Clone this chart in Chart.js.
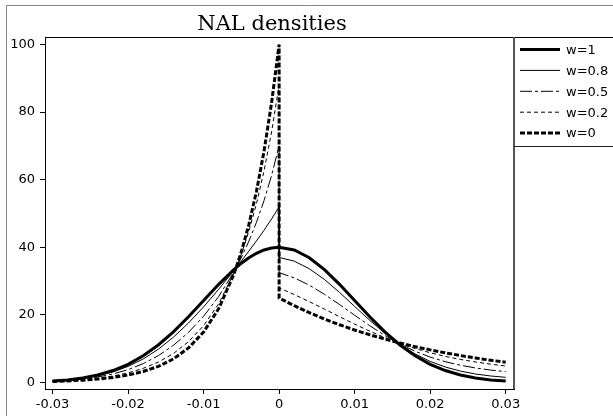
<!DOCTYPE html>
<html>
<head>
<meta charset="utf-8">
<script src="https://cdn.jsdelivr.net/npm/chart.js@4/dist/chart.umd.min.js"></script>
<style>
  body { margin: 0; background: #fff; }
  #wrap { width: 613px; height: 416px; }
</style>
</head>
<body>
<div id="wrap"><canvas id="chart" width="613" height="416"></canvas></div>
<script>
// x grid (left side finer near the peak, then the jump at 0)
const xVals = [-0.03, -0.028, -0.026, -0.024, -0.022, -0.02, -0.018, -0.016, -0.014, -0.012, -0.01, -0.008, -0.006, -0.005, -0.004, -0.003, -0.002, -0.001, 0,
    0, 0.002, 0.004, 0.006, 0.008, 0.01, 0.012, 0.014, 0.016, 0.018, 0.02, 0.022, 0.024, 0.026, 0.028, 0.03];

const w1 = [0.44, 0.79, 1.36, 2.25, 3.56, 5.41, 7.92, 11.12, 15.01, 19.47, 24.26, 29.05, 33.41, 35.30, 36.92, 38.24, 39.21, 39.80, 40,
    40, 39.21, 36.92, 33.41, 29.05, 24.26, 19.47, 15.01, 11.12, 7.92, 5.41, 3.56, 2.25, 1.36, 0.79, 0.44];
const w08 = [0.42, 0.73, 1.23, 2.01, 3.15, 4.78, 6.99, 9.85, 13.41, 17.62, 22.40, 27.61, 33.12, 35.97, 38.89, 41.90, 45.05, 48.38, 52,
    37, 35.92, 33.67, 30.49, 26.66, 22.52, 18.41, 14.58, 11.24, 8.47, 6.26, 4.61, 3.40, 2.54, 1.95, 1.55];
const w05 = [0.39, 0.64, 1.04, 1.65, 2.55, 3.83, 5.60, 7.95, 11.00, 14.85, 19.61, 25.46, 32.70, 36.99, 41.85, 47.40, 53.80, 61.25, 70,
    32.5, 30.98, 28.80, 26.11, 23.08, 19.91, 16.81, 13.94, 11.41, 9.28, 7.54, 6.18, 5.13, 4.32, 3.70, 3.23];
const w02 = [0.35, 0.55, 0.85, 1.29, 1.94, 2.87, 4.20, 6.05, 8.59, 12.08, 16.82, 23.31, 32.27, 38.00, 44.80, 52.89, 62.55, 74.12, 88,
    28, 26.03, 23.92, 21.72, 19.49, 17.29, 15.20, 13.29, 11.57, 10.08, 8.82, 7.74, 6.85, 6.09, 5.45, 4.90];
const w0 = [0.33, 0.49, 0.72, 1.05, 1.53, 2.24, 3.27, 4.78, 6.99, 10.23, 14.96, 21.87, 31.98, 38.67, 46.77, 56.55, 68.39, 82.70, 100,
    25, 22.74, 20.67, 18.80, 17.10, 15.55, 14.14, 12.86, 11.69, 10.63, 9.67, 8.79, 8.00, 7.27, 6.61, 6.01];

const seriesNames = ['w=1', 'w=0.8', 'w=0.5', 'w=0.2', 'w=0'];
const xTicks = [-0.03, -0.02, -0.01, 0, 0.01, 0.02, 0.03];
const yTicks = [0, 20, 40, 60, 80, 100];

const allSeries = [w1, w08, w05, w02, w0];
const widths = [3, 1, 1, 1, 3];
const dashes = [[], [], [12, 3, 3, 3], [4, 3], [5, 2]];

const tickFont = { family: 'DejaVu Sans', size: 13 };

const datasets = allSeries.map((vals, i) => ({
    label: seriesNames[i],
    data: xVals.map((x, j) => ({ x: x, y: vals[j] })),
    borderColor: '#000',
    borderWidth: widths[i],
    borderDash: dashes[i],
    pointRadius: 0,
    tension: 0,
    fill: false
}));

// title, frame and legend box drawn by hand
const framePlugin = {
    id: 'frame',
    beforeDraw(chart) {
        const c = chart.ctx;
        c.save();
        c.fillStyle = '#fff';
        c.fillRect(0, 0, chart.width, chart.height);
        c.restore();
    },
    afterDraw(chart) {
        const c = chart.ctx;
        const a = chart.chartArea;
        c.save();
        // outer figure border
        c.strokeStyle = '#888';
        c.lineWidth = 1;
        c.beginPath();
        c.moveTo(6.5, 416);
        c.lineTo(6.5, 5.5);
        c.lineTo(613, 5.5);
        c.stroke();

        // top of plot box
        c.strokeStyle = '#000';
        c.beginPath();
        c.moveTo(a.left, Math.round(a.top) + 0.5);
        c.lineTo(613, Math.round(a.top) + 0.5);
        c.stroke();
        // right of plot box
        c.strokeStyle = '#555';
        c.lineWidth = 2;
        c.beginPath();
        c.moveTo(a.right, a.top);
        c.lineTo(a.right, a.bottom);
        c.stroke();

        // legend box
        c.strokeStyle = '#222';
        c.lineWidth = 1;
        c.beginPath();
        c.moveTo(a.right, 146.5);
        c.lineTo(613, 146.5);
        c.stroke();

        c.font = '13px "DejaVu Sans"';
        c.fillStyle = '#000';
        c.textBaseline = 'middle';
        c.textAlign = 'left';
        seriesNames.forEach((name, i) => {
            const y = 49.5 + i * 20.9;
            c.strokeStyle = '#000';
            c.lineWidth = widths[i];
            c.setLineDash(dashes[i]);
            c.beginPath();
            c.moveTo(520, y);
            c.lineTo(560, y);
            c.stroke();
            c.setLineDash([]);
            c.fillText(name, 566, y + 1);
        });

        // title
        c.font = '21px "DejaVu Serif"';
        c.textAlign = 'center';
        c.textBaseline = 'alphabetic';
        c.fillText('NAL densities', 272, 30);
        c.restore();
    }
};

new Chart(document.getElementById('chart'), {
    type: 'line',
    data: { datasets: datasets },
    options: {
        responsive: false,
        animation: false,
        layout: { padding: { top: 37, right: 99, left: 0, bottom: 0 } },
        plugins: {
            legend: { display: false },
            title: { display: false },
            tooltip: { enabled: false }
        },
        scales: {
            x: {
                type: 'linear',
                min: -0.031,
                max: 0.0311,
                afterBuildTicks: (s) => { s.ticks = xTicks.map(v => ({ value: v })); },
                afterFit: (s) => { s.height = 27; },
                grid: { drawOnChartArea: false, color: '#000', tickLength: 5 },
                border: { color: '#000', width: 1 },
                ticks: {
                    color: '#000', font: tickFont, padding: 3,
                    maxRotation: 0, autoSkip: false,
                    callback: (v) => String(v)
                }
            },
            y: {
                min: -1.9,
                max: 102.2,
                afterBuildTicks: (s) => { s.ticks = yTicks.map(v => ({ value: v })); },
                afterFit: (s) => { s.width = 45; },
                grid: { drawOnChartArea: false, color: '#000', tickLength: 5 },
                border: { color: '#000', width: 1 },
                ticks: {
                    color: '#000', font: tickFont, padding: 5,
                    callback: (v) => String(v)
                }
            }
        }
    },
    plugins: [framePlugin]
});
</script>
</body>
</html>
